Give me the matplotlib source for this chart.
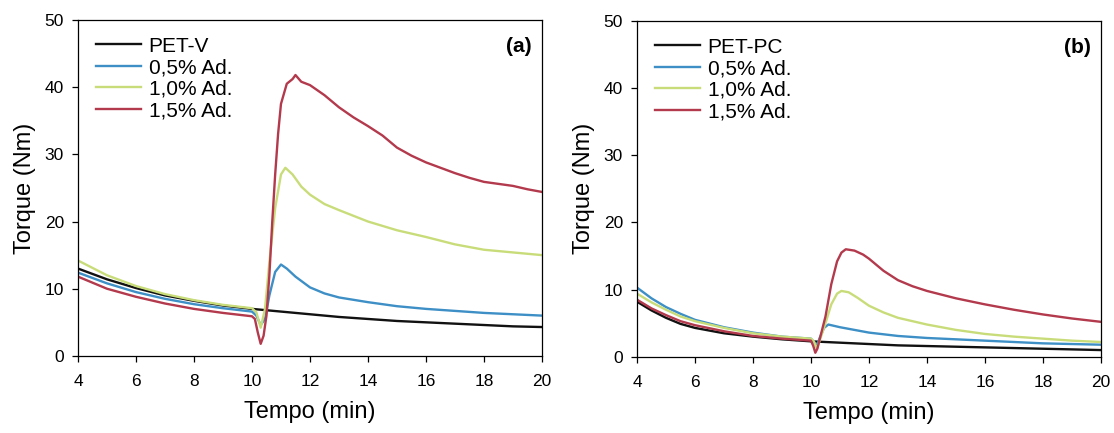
import matplotlib
matplotlib.use("Agg")
import matplotlib.pyplot as plt

plt.rcParams["font.family"] = ["Liberation Sans", "DejaVu Sans"]

# panel (a): PET-V and additive contents
a_black_t = [4, 5, 6, 7, 8, 9, 10, 10.5, 11, 12, 13, 14, 15, 16, 17, 18, 19, 20]
a_black_y = [13.0, 11.4, 10.1, 9.0, 8.2, 7.5, 7.0, 6.8, 6.6, 6.2, 5.8, 5.5, 5.2, 5.0, 4.8, 4.6, 4.4, 4.3]

a_blue_t = [4, 5, 6, 7, 8, 9, 10, 10.15, 10.3, 10.45, 10.6, 10.8, 11.0, 11.2, 11.5, 12, 12.5, 13, 14, 15, 16, 17, 18, 19, 20]
a_blue_y = [12.4, 10.8, 9.5, 8.5, 7.7, 7.1, 6.6, 6.0, 4.6, 5.5, 9.0, 12.5, 13.6, 13.0, 11.8, 10.2, 9.3, 8.7, 8.0, 7.4, 7.0, 6.7, 6.4, 6.2, 6.0]

a_green_t = [4, 5, 6, 7, 8, 9, 10, 10.15, 10.3, 10.45, 10.6, 10.8, 11.0, 11.15, 11.4, 11.7, 12, 12.5, 13, 14, 15, 16, 17, 18, 19, 20]
a_green_y = [14.2, 12.0, 10.4, 9.2, 8.3, 7.6, 7.1, 6.5, 4.2, 7.0, 14.0, 22.0, 27.0, 28.0, 27.0, 25.2, 24.0, 22.6, 21.7, 20.0, 18.7, 17.7, 16.6, 15.8, 15.4, 15.0]

a_red_t = [4, 5, 6, 7, 8, 9, 10, 10.1, 10.2, 10.3, 10.4, 10.5, 10.6, 10.7, 10.8, 10.9, 11.0, 11.2, 11.4, 11.5, 11.7, 12, 12.5, 13, 13.5, 14, 14.5, 15, 15.5, 16, 16.5, 17, 17.5, 18, 18.5, 19, 19.5, 20]
a_red_y = [11.8, 10.0, 8.8, 7.8, 7.0, 6.4, 5.9, 5.5, 3.5, 1.8, 3.0, 6.0, 12.0, 20.0, 27.0, 33.0, 37.5, 40.5, 41.2, 41.8, 40.8, 40.3, 38.8, 37.0, 35.5, 34.2, 32.8, 31.0, 29.8, 28.8, 28.0, 27.2, 26.5, 25.9, 25.6, 25.3, 24.8, 24.4]

# panel (b): PET-PC and additive contents
b_black_t = [4, 4.5, 5, 5.5, 6, 7, 8, 9, 10, 11, 12, 13, 14, 16, 18, 20]
b_black_y = [8.2, 6.9, 5.8, 4.9, 4.3, 3.5, 3.0, 2.6, 2.3, 2.1, 1.9, 1.7, 1.6, 1.4, 1.2, 1.0]

b_blue_t = [4, 4.5, 5, 5.5, 6, 7, 8, 9, 10, 10.1, 10.2, 10.3, 10.45, 10.6, 10.8, 11, 12, 13, 14, 16, 18, 20]
b_blue_y = [10.3, 8.7, 7.4, 6.4, 5.5, 4.4, 3.6, 3.0, 2.7, 2.2, 1.6, 2.8, 4.3, 4.8, 4.6, 4.4, 3.6, 3.1, 2.8, 2.4, 2.0, 1.8]

b_green_t = [4, 4.5, 5, 5.5, 6, 7, 8, 9, 10, 10.1, 10.2, 10.3, 10.5, 10.7, 10.9, 11.05, 11.3, 11.6, 12, 12.5, 13, 14, 15, 16, 17, 18, 19, 20]
b_green_y = [9.4, 8.1, 7.0, 6.0, 5.3, 4.3, 3.5, 3.0, 2.7, 2.3, 1.2, 2.4, 5.0, 7.8, 9.4, 9.8, 9.6, 8.8, 7.6, 6.6, 5.8, 4.8, 4.0, 3.4, 3.0, 2.7, 2.4, 2.2]

b_red_t = [4, 4.5, 5, 5.5, 6, 7, 8, 9, 10, 10.08, 10.15, 10.22, 10.3, 10.5, 10.7, 10.9, 11.05, 11.2, 11.5, 11.8, 12, 12.5, 13, 13.5, 14, 15, 16, 17, 18, 19, 20]
b_red_y = [8.5, 7.2, 6.2, 5.3, 4.7, 3.8, 3.1, 2.7, 2.4, 1.6, 0.6, 1.2, 2.6, 6.0, 10.8, 14.2, 15.5, 16.0, 15.8, 15.2, 14.6, 12.8, 11.4, 10.5, 9.8, 8.7, 7.8, 7.0, 6.3, 5.7, 5.2]

legend_a = ["PET-V", "0,5% Ad.", "1,0% Ad.", "1,5% Ad."]
legend_b = ["PET-PC", "0,5% Ad.", "1,0% Ad.", "1,5% Ad."]
colors = ["#111111", "#3d8fc6", "#c9dc7a", "#b3394c"]

x_ticks = [4, 6, 8, 10, 12, 14, 16, 18, 20]
y_ticks = [0, 10, 20, 30, 40, 50]

fig = plt.figure(figsize=(11.14, 4.33), dpi=100)
ax_a = fig.add_axes([0.070, 0.178, 0.4165, 0.776])
ax_b = fig.add_axes([0.5718, 0.176, 0.4165, 0.776])

panels = [
    (ax_a, "(a)", legend_a, [(a_black_t, a_black_y), (a_blue_t, a_blue_y), (a_green_t, a_green_y), (a_red_t, a_red_y)]),
    (ax_b, "(b)", legend_b, [(b_black_t, b_black_y), (b_blue_t, b_blue_y), (b_green_t, b_green_y), (b_red_t, b_red_y)]),
]

for ax, tag, names, series in panels:
    for (t, y), name, c in zip(series, names, colors):
        ax.plot(t, y, color=c, lw=1.7, label=name)
    ax.set_xlim(4, 20)
    ax.set_ylim(0, 50)
    ax.set_xticks(x_ticks)
    ax.set_yticks(y_ticks)
    ax.tick_params(axis="both", direction="out", length=4, width=0.9, labelsize=12.5)
    ax.tick_params(axis="x", pad=9)
    ax.tick_params(axis="y", pad=6)
    for sp in ax.spines.values():
        sp.set_linewidth(0.9)
    ax.set_xlabel("Tempo (min)", fontsize=17, labelpad=9)
    ax.set_ylabel("Torque (Nm)", fontsize=17, labelpad=6)
    ax.text(0.978, 0.92, tag, transform=ax.transAxes, ha="right", va="center",
            fontsize=15, fontweight="bold")
    ax.legend(loc="upper left", frameon=False, fontsize=15, handlelength=2.2,
              handletextpad=0.35, labelspacing=0.12, borderaxespad=0.0,
              bbox_to_anchor=(0.02, 0.975))

fig.savefig("out.png", dpi=100)
